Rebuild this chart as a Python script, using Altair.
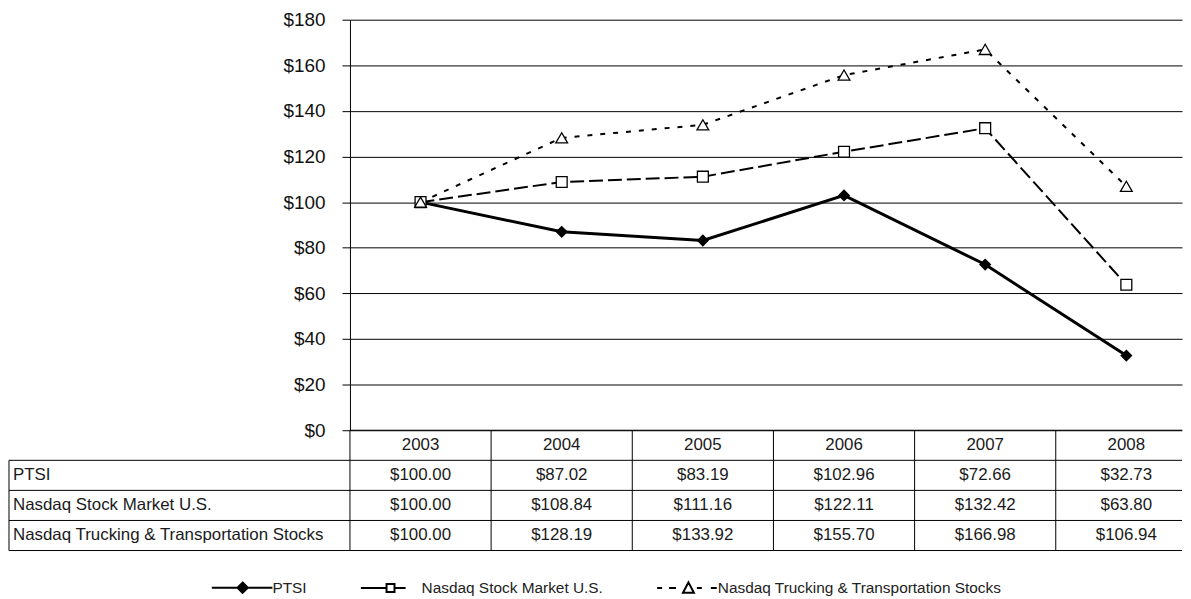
import altair as alt
import pandas as pd

# ---------------- data ----------------
years = ["2003", "2004", "2005", "2006", "2007", "2008"]
series = ["PTSI", "Nasdaq Stock Market U.S.", "Nasdaq Trucking & Transportation Stocks"]
ptsi = [100.00, 87.02, 83.19, 102.96, 72.66, 32.73]
nasdaq = [100.00, 108.84, 111.16, 122.11, 132.42, 63.80]
trucking = [100.00, 128.19, 133.92, 155.70, 166.98, 106.94]
y_ticks = [0, 20, 40, 60, 80, 100, 120, 140, 160, 180]

values = {series[0]: ptsi, series[1]: nasdaq, series[2]: trucking}

# ---------------- layout ----------------
FONT = "Liberation Sans"
COL_PX = 142          # width of one year column
LABEL_PX = 343        # width of the label column of the table
W = 837               # visible plot width
PLOT_H = 413          # height of the line-chart part
TABLE_H = 121         # height of the data table
H = PLOT_H + TABLE_H
XMAX = W / COL_PX
L = LABEL_PX / COL_PX

rows = []
for s in series:
    for i, yr in enumerate(years):
        rows.append({"series": s, "idx": i + 0.5, "year": yr, "value": values[s][i]})
df = pd.DataFrame(rows)

xs = alt.Scale(domain=[0, XMAX], nice=False, zero=False)
ys = alt.Scale(domain=[0, 180], range=[PLOT_H, 0], nice=False, zero=False)
ts = alt.Scale(domain=[0, 4], range=[PLOT_H, H], nice=False, zero=False)

yaxis = alt.Axis(
    values=y_ticks, labelExpr="'$' + datum.value", title=None,
    grid=True, gridColor="black", gridWidth=1, gridOpacity=1,
    domainColor="black", domainWidth=1, tickColor="black", tickSize=8, tickWidth=1,
    labelFontSize=19, labelFont=FONT, labelColor="#111", labelPadding=17,
)

styles = {
    series[0]: dict(dash=None, width=3, shape="diamond", fill="black", size=110),
    series[1]: dict(dash=[14, 5], width=2, shape="square", fill="white", size=120),
    series[2]: dict(dash=[5, 8], width=2, shape="triangle-up", fill="white", size=140),
}

base = alt.Chart(df).encode(
    x=alt.X("idx:Q", scale=xs, axis=None),
    y=alt.Y("value:Q", scale=ys, axis=yaxis),
)

line_layers = []
point_layers = []
for s in series:
    st = styles[s]
    lkw = dict(color="black", strokeWidth=st["width"])
    if st["dash"]:
        lkw["strokeDash"] = st["dash"]
    line_layers.append(base.transform_filter(alt.datum.series == s).mark_line(**lkw))
    point_layers.append(
        base.transform_filter(alt.datum.series == s).mark_point(
            shape=st["shape"], filled=True, fill=st["fill"], stroke="black",
            strokeWidth=1.3, size=st["size"], opacity=1,
        )
    )
plot = alt.layer(*line_layers, *point_layers)

# ---------------- data table ----------------
cells = []
for i, yr in enumerate(years):
    cells.append({"tx": i + 0.5, "ty": 0.5, "text": yr, "kind": "c"})
for r, s in enumerate(series):
    cells.append({"tx": -L, "ty": r + 1.5, "text": s, "kind": "l"})
    for i, v in enumerate(values[s]):
        cells.append({"tx": i + 0.5, "ty": r + 1.5, "text": f"${v:.2f}", "kind": "c"})
cells_df = pd.DataFrame(cells)

hl = [{"xa": 0, "xb": XMAX, "ya": 0, "yb": 0}]
for k in range(1, 5):
    hl.append({"xa": -L, "xb": XMAX, "ya": k, "yb": k})
vl = [{"xa": -L, "xb": -L, "ya": 1, "yb": 4}]
for c in range(0, 6):
    vl.append({"xa": c, "xb": c, "ya": 0, "yb": 4})
lines_df = pd.DataFrame(hl + vl)

grid = alt.Chart(lines_df).mark_rule(color="black", strokeWidth=1).encode(
    x=alt.X("xa:Q", scale=xs, axis=None), x2="xb:Q",
    y=alt.Y("ya:Q", scale=ts, axis=None), y2="yb:Q",
)
center_text = alt.Chart(cells_df).transform_filter(alt.datum.kind == "c").mark_text(
    font=FONT, fontSize=17, color="#1a1a1a", align="center", baseline="middle"
).encode(
    x=alt.X("tx:Q", scale=xs, axis=None),
    y=alt.Y("ty:Q", scale=ts, axis=None),
    text="text:N",
)
label_text = alt.Chart(cells_df).transform_filter(alt.datum.kind == "l").mark_text(
    font=FONT, fontSize=17, color="#1a1a1a", align="left", baseline="middle", dx=4
).encode(
    x=alt.X("tx:Q", scale=xs, axis=None),
    y=alt.Y("ty:Q", scale=ts, axis=None),
    text="text:N",
)
table = alt.layer(grid, center_text, label_text)

# ---------------- legend ----------------
legend_paths = [
    "M-1.125,0L6.5,0M2.75,-0.65L3.4,0L2.75,0.65L2.1,0Z",
    "M-1.125,0L2.1,0M3.1,0L4.5,0M2.1,-0.5L3.1,-0.5L3.1,0.5L2.1,0.5Z",
    "M-1.125,0L-0.5,0M0.375,0L1.25,0M3.875,0L4.5,0M5.625,0L6.375,0M2.125,0.6L2.8125,-0.7L3.5,0.6Z",
]
leg = alt.Legend(
    orient="none", legendX=-139, legendY=562, direction="horizontal", title=None,
    symbolSize=256, symbolStrokeWidth=2, symbolStrokeColor="black", symbolOpacity=1,
    labelFontSize=15.5, labelFont=FONT, labelColor="#222", labelOffset=43,
    labelLimit=600, columnPadding=50, padding=0,
)
legend_layer = alt.Chart(df).transform_filter("false").mark_point(
    opacity=1, strokeWidth=2, filled=False
).encode(
    shape=alt.Shape("series:N", scale=alt.Scale(domain=series, range=legend_paths), legend=leg),
    fill=alt.Fill("series:N", scale=alt.Scale(domain=series, range=["black", "white", "white"]), legend=leg),
    stroke=alt.Stroke("series:N", scale=alt.Scale(domain=series, range=["black", "black", "black"]), legend=leg),
)

chart = (
    alt.layer(plot, table, legend_layer)
    .resolve_scale(y="independent")
    .properties(width=W, height=H, padding={"left": 0, "top": 1, "right": 0, "bottom": 0},
                background="white")
    .configure_view(stroke=None)
)

chart.save("out.html", embed_options={"renderer": "svg", "actions": False})
